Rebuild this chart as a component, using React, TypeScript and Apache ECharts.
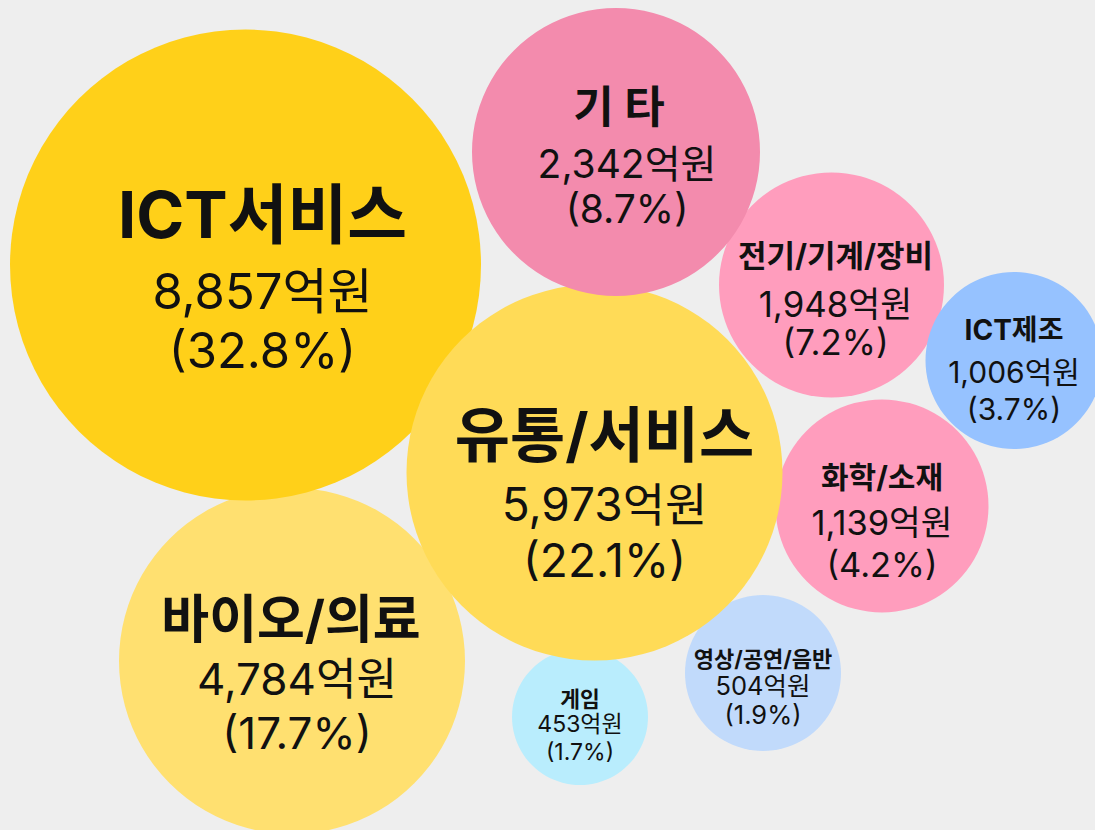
import React, { useEffect, useRef } from "react";
import * as echarts from "echarts";

// ---- data ----
const categories = ["ICT서비스", "유통/서비스", "바이오/의료", "기 타", "전기/기계/장비", "화학/소재", "ICT제조", "영상/공연/음반", "게임"];
const amounts = [8857, 5973, 4784, 2342, 1948, 1139, 1006, 504, 453];
const shares = [32.8, 22.1, 17.7, 8.7, 7.2, 4.2, 3.7, 1.9, 1.7];
const unit = "억원";

// ---- layout (packed bubble positions, in px of a 1095x830 canvas) ----
const layoutX = [245.5, 594.5, 292, 616, 831.5, 882, 1014, 763, 580];
const layoutY = [265, 472.5, 661, 152, 285, 506, 360.5, 673, 717];
const layoutR = [235.5, 188, 173, 144, 112.5, 106.5, 88.5, 78, 68];
const colors = ["#FFD019", "#FFDB57", "#FFE070", "#F38BAD", "#FF9DBD", "#FF9DBD", "#96C2FF", "#C1DAFB", "#B9EDFD"];
const titleSize = [65, 60, 52, 44, 31, 30, 28, 22, 21.5];
const valueSize = [49, 46, 44, 39, 34.8, 34.5, 30, 25.5, 23];
const titleLH = [94.6, 81.2, 64.5, 67, 56.7, 49.9, 46.5, 25.4, 23];
const valueLH = [59, 56, 54.3, 45, 38.6, 41.7, 37.3, 29, 27.6];
const titlePadRight = [0, 0, 12, 16, 0, 0, 0, 0, 0];
const labelDX = [17, 10, 5, 11, 4, 0, 0, 0, 0];
const labelDY = [8.3, 18.8, 12.8, 0, 9.5, 12.3, 6.6, 14.5, 9.7];
const drawOrder = [2, 8, 7, 4, 5, 0, 1, 3, 6];

const FONT = "Inter, 'Noto Sans CJK KR', sans-serif";

export default function App() {
  const ref = useRef<HTMLDivElement>(null);
  useEffect(() => {
    if (!ref.current) return;
    const chart = echarts.init(ref.current, undefined, { renderer: "svg" });
    const data = drawOrder.map((i) => ({
      name: categories[i],
      value: [layoutX[i], layoutY[i], amounts[i]],
      symbolSize: layoutR[i] * 2,
      itemStyle: { color: colors[i] },
      label: {
        show: true,
        position: "inside",
        offset: [labelDX[i], labelDY[i]],
        formatter: `{t|${categories[i]}}\n{v|${amounts[i].toLocaleString("en-US")}${unit}}\n{v|(${shares[i].toFixed(1)}%)}`,
        rich: {
          t: {
            fontSize: titleSize[i],
            fontWeight: 700,
            lineHeight: titleLH[i],
            color: "#111",
            fontFamily: FONT,
            align: "center",
            padding: [0, titlePadRight[i], 0, 0],
          },
          v: { fontSize: valueSize[i], fontWeight: 400, lineHeight: valueLH[i], color: "#111", fontFamily: FONT, align: "center" },
        },
      },
    }));
    chart.setOption({
      animation: false,
      backgroundColor: "#EEEEEE",
      grid: { left: 0, right: 0, top: 0, bottom: 0 },
      xAxis: { type: "value", min: 0, max: 1095, show: false },
      yAxis: { type: "value", min: 0, max: 830, inverse: true, show: false },
      series: [
        {
          type: "scatter",
          symbol: "circle",
          data,
          itemStyle: { opacity: 1 },
          emphasis: { disabled: true },
        },
      ],
    });
    return () => chart.dispose();
  }, []);
  return <div ref={ref} style={{ position: "absolute", left: 0, top: 0, width: 1095, height: 830 }} />;
}
